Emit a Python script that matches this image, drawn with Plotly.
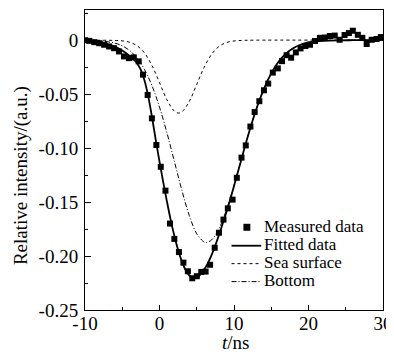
import plotly.graph_objects as go

# ---- data ----
meas_t = [-10.0, -9.42, -8.75, -8.09, -7.43, -6.76, -6.10, -5.44, -4.77, -4.11,
          -3.45, -2.79, -2.22, -1.59, -1.02, -0.42, 0.17, 0.80, 1.41, 1.99,
          2.61, 3.21, 3.81, 4.40, 5.01, 5.61, 6.19, 6.79, 7.41, 7.98,
          8.59, 9.17, 9.81, 10.38, 11.01, 11.58, 12.20, 12.77, 13.40, 14.02,
          14.59, 15.21, 15.88, 16.45, 17.06, 17.67, 18.30, 18.93, 19.58, 20.20,
          20.87, 21.53, 22.19, 22.86, 23.52, 24.18, 24.84, 25.42, 25.95, 26.62,
          27.23, 27.81, 28.48, 29.14, 29.71]
meas_v = [0.0000, -0.0006, -0.0018, -0.0028, -0.0042, -0.0058, -0.0074, -0.0104, -0.0150, -0.0166,
          -0.0159, -0.0196, -0.0319, -0.0507, -0.0724, -0.0971, -0.1173, -0.1394, -0.1699, -0.1841,
          -0.1963, -0.2061, -0.2141, -0.2206, -0.2187, -0.2147, -0.2144, -0.2081, -0.1923, -0.1784,
          -0.1662, -0.1558, -0.1477, -0.1275, -0.1088, -0.0975, -0.0800, -0.0666, -0.0565, -0.0464,
          -0.0402, -0.0300, -0.0261, -0.0194, -0.0139, -0.0162, -0.0113, -0.0076, -0.0054, -0.0042,
          -0.0007, 0.0022, 0.0025, 0.0039, 0.0043, 0.0004, 0.0048, 0.0066, 0.0088, 0.0050,
          0.0022, -0.0035, 0.0004, 0.0011, 0.0029]

fit_t = [-10, -9, -8, -7, -6, -5, -4, -3.5, -3, -2.5, -2, -1.5, -1, -0.5, 0, 0.5, 1, 1.5,
         2, 2.5, 3, 3.5, 4, 4.5, 5, 5.5, 6, 6.5, 7, 7.5, 8, 9, 10, 11, 12, 13, 14, 15,
         16, 17, 18, 19, 20, 21, 22, 24, 26, 30]
fit_v = [0.0000, -0.0010, -0.0020, -0.0035, -0.0060, -0.0095, -0.0145, -0.0175, -0.0215, -0.0275,
         -0.0375, -0.0525, -0.0715, -0.0925, -0.1125, -0.1315, -0.1495, -0.1665,
         -0.1815, -0.1945, -0.2050, -0.2130, -0.2180, -0.2200, -0.2198, -0.2170, -0.2125, -0.2065,
         -0.1990, -0.1900, -0.1800, -0.1589, -0.1352, -0.1102, -0.0858, -0.0638, -0.0453, -0.0307,
         -0.0198, -0.0122, -0.0072, -0.0040, -0.0021, -0.0011, -0.0005, -0.0001, 0.0000, 0.0000]

sea_t = [-10, -6, -5, -4, -3, -2, -1, 0, 1, 2, 2.5, 3, 4, 5, 6, 7, 8, 9, 10, 11, 12, 30]
sea_v = [0.0000, -0.0002, -0.0006, -0.0019, -0.0052, -0.0120, -0.0236, -0.0393, -0.0552, -0.0658,
         -0.0675, -0.0664, -0.0567, -0.0409, -0.0250, -0.0130, -0.0057, -0.0021, -0.0007, -0.0002,
         0.0000, 0.0000]

bot_t = [-10, -8, -6, -5, -4, -3, -2, -1, 0, 1, 2, 3, 4, 5, 6, 6.25, 7, 8, 9, 10, 11, 12, 13,
         14, 15, 16, 17, 18, 19, 20, 21, 22, 24, 26, 30]
bot_v = [-0.0001, -0.0006, -0.0027, -0.0052, -0.0096, -0.0166, -0.0273, -0.0423, -0.0620, -0.0859,
         -0.1124, -0.1390, -0.1625, -0.1794, -0.1871, -0.1875, -0.1850, -0.1744, -0.1568, -0.1345,
         -0.1100, -0.0858, -0.0638, -0.0453, -0.0307, -0.0198, -0.0122, -0.0072, -0.0040, -0.0021,
         -0.0011, -0.0005, -0.0001, 0.0000, 0.0000]

x_ticks = [-10, 0, 10, 20, 30]
x_ticktext = ["-10", "0", "10", "20", "30"]
y_ticks = [0, -0.05, -0.10, -0.15, -0.20, -0.25]
y_ticktext = ["0", "-0.05", "-0.10", "-0.15", "-0.20", "-0.25"]

legend_names = ["Measured data", "Fitted data", "Sea surface", "Bottom"]

FONT = "Liberation Serif"

# The page body has an 8px margin, so the figure is placed at (8, 8) in the window.
OFF = 8
FIG_W, FIG_H = 394 - OFF, 356 - OFF
# plot area in window pixels (as in the reference)
plot_l, plot_r, plot_t, plot_b = 85, 386, 9, 310

def px2x(px):
    return (px - plot_l) / (plot_r - plot_l)
def py2y(py):
    return (plot_b - py) / (plot_b - plot_t)

fig = go.Figure()
fig.add_trace(go.Scatter(x=sea_t, y=sea_v, mode="lines", line_shape="spline",
                         line=dict(color="black", width=1, dash="3px,3px"),
                         name=legend_names[2]))
fig.add_trace(go.Scatter(x=bot_t, y=bot_v, mode="lines", line_shape="spline",
                         line=dict(color="black", width=1, dash="5px,2px,1px,2px"),
                         name=legend_names[3]))
fig.add_trace(go.Scatter(x=fit_t, y=fit_v, mode="lines", line_shape="spline",
                         line=dict(color="black", width=1.8),
                         name=legend_names[1]))
fig.add_trace(go.Scatter(x=meas_t, y=meas_v, mode="markers",
                         marker=dict(symbol="square", size=6, color="black"),
                         name=legend_names[0]))

# ---- hand-made legend (compact line spacing like the original) ----
text_rows = [226, 244, 262, 280]
for name, ry in zip(legend_names, text_rows):
    fig.add_annotation(x=px2x(264), y=py2y(ry), xref="paper", yref="paper",
                       text=name, showarrow=False, xanchor="left", yanchor="middle",
                       font=dict(family=FONT, size=17, color="black"))
fig.add_shape(type="rect", xref="paper", yref="paper",
              x0=px2x(245), x1=px2x(252), y0=py2y(230.5), y1=py2y(223.5),
              fillcolor="black", line=dict(width=0))
styles = [dict(width=1.8), dict(width=1, dash="3px,3px"), dict(width=1, dash="5px,2px,1px,2px")]
for st, ry in zip(styles, text_rows[1:]):
    fig.add_shape(type="line", xref="paper", yref="paper",
                  x0=px2x(233), x1=px2x(263), y0=py2y(ry + 1.5), y1=py2y(ry + 1.5),
                  line=dict(color="black", **st))

# axis titles
fig.add_annotation(x=px2x(21), y=py2y(175), xref="paper", yref="paper",
                   text="Relative intensity/(a.u.)", textangle=-90, showarrow=False,
                   xanchor="center", yanchor="middle",
                   font=dict(family=FONT, size=19, color="black"))
fig.add_annotation(x=px2x(237), y=py2y(343), xref="paper", yref="paper",
                   text="<i>t</i>/ns", showarrow=False,
                   xanchor="center", yanchor="middle",
                   font=dict(family=FONT, size=19, color="black"))

fig.update_layout(
    width=FIG_W, height=FIG_H,
    margin=dict(l=plot_l - OFF, r=FIG_W - (plot_r - OFF), t=plot_t - OFF, b=FIG_H - (plot_b - OFF)),
    plot_bgcolor="white", paper_bgcolor="white",
    showlegend=False,
    font=dict(family=FONT, size=19, color="black"),
)
fig.update_xaxes(
    range=[-10, 30], tickmode="array", tickvals=x_ticks, ticktext=x_ticktext,
    ticks="inside", ticklen=5, tickwidth=1, tickcolor="black",
    showline=True, linecolor="black", linewidth=1, mirror=True,
    showgrid=False, zeroline=False, ticklabeloverflow="allow",
    ticklabelstandoff=-4,
    minor=dict(tickmode="linear", tick0=-10, dtick=5, ticks="inside", ticklen=3,
               tickcolor="black", showgrid=False),
    tickfont=dict(family=FONT, size=19, color="black"),
)
fig.update_yaxes(
    range=[-0.25, 0.028], tickmode="array", tickvals=y_ticks, ticktext=y_ticktext,
    ticks="inside", ticklen=6, tickwidth=1, tickcolor="black",
    showline=True, linecolor="black", linewidth=1, mirror=True,
    showgrid=False, zeroline=False, ticklabeloverflow="allow",
    ticklabelstandoff=2,
    minor=dict(tickmode="linear", tick0=0, dtick=0.025, ticks="inside", ticklen=3,
               tickcolor="black", showgrid=False),
    tickfont=dict(family=FONT, size=19, color="black"),
)

fig.write_html("out.html")
